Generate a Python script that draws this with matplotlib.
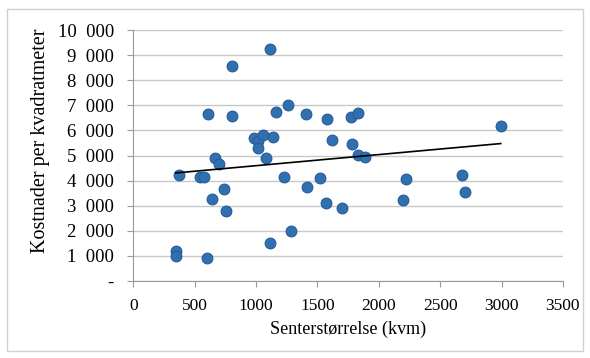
import numpy as np
import matplotlib
matplotlib.use('Agg')
import matplotlib.pyplot as plt
from matplotlib.ticker import FuncFormatter
from matplotlib.patches import Rectangle

# senterstørrelse (kvm) og kostnader per kvadratmeter
size_kvm = [1114, 803, 611, 803, 1162, 1257, 1405, 1578, 1775, 1832,
            984, 1016, 1019, 1059, 1138, 1621, 1778, 1832, 1886, 668,
            695, 1084, 373, 546, 576, 738, 644, 751, 346, 346,
            600, 1111, 1284, 1230, 1419, 1521, 1567, 1702, 2221, 2194,
            2678, 2702, 2994]
cost_kvm = [9230, 8560, 6640, 6570, 6720, 7000, 6640, 6450, 6530, 6700,
            5680, 5590, 5320, 5820, 5730, 5610, 5460, 5030, 4950, 4910,
            4660, 4890, 4210, 4150, 4150, 3680, 3280, 2780, 1210, 990,
            930, 1520, 1990, 4150, 3750, 4090, 3090, 2900, 4080, 3210,
            4220, 3560, 6170]

x_ticks = [0, 500, 1000, 1500, 2000, 2500, 3000, 3500]
y_ticks = [0, 1000, 2000, 3000, 4000, 5000, 6000, 7000, 8000, 9000, 10000]

plt.rcParams['font.family'] = ['Liberation Serif', 'DejaVu Serif']

fig = plt.figure(figsize=(5.9, 3.58), dpi=100)
fig.patches.append(Rectangle((0.012, 0.02), 0.976, 0.955, transform=fig.transFigure,
                             fill=False, edgecolor='#d0d0d0', lw=1))
ax = fig.add_axes([0.226, 0.215, 0.728, 0.701])

ax.scatter(size_kvm, cost_kvm, s=60, color='#3170b0', edgecolor='#255c98',
           linewidth=0.8, zorder=3)

# lineær trendlinje
k, m = np.polyfit(size_kvm, cost_kvm, 1)
xs = np.array([min(size_kvm), max(size_kvm)])
ax.plot(xs, k * xs + m, color='black', lw=1.2, zorder=4)

ax.set_xlim(0, 3500)
ax.set_ylim(0, 10000)
ax.set_xticks(x_ticks)
ax.set_yticks(y_ticks)
ax.yaxis.set_major_formatter(FuncFormatter(
    lambda v, p: '-' if v == 0 else f'{int(v):,}'.replace(',', '\u2007')))
ax.grid(axis='y', color='#c8c8c8', lw=1)
ax.set_axisbelow(True)
for s in ['top', 'right']:
    ax.spines[s].set_visible(False)
for s in ['left', 'bottom']:
    ax.spines[s].set_color('#999999')
ax.tick_params(colors='#999999', labelcolor='black', length=4)
ax.tick_params(axis='y', pad=10, labelsize=13.5)
ax.tick_params(axis='x', pad=8, labelsize=12.5)

ax.set_xlabel('Senterstørrelse (kvm)', fontsize=13, labelpad=5)
ax.set_ylabel('Kostnader per kvadratmeter', fontsize=14.5)
ax.yaxis.set_label_coords(-0.194, 0.558)

fig.savefig('out.png', dpi=100)
